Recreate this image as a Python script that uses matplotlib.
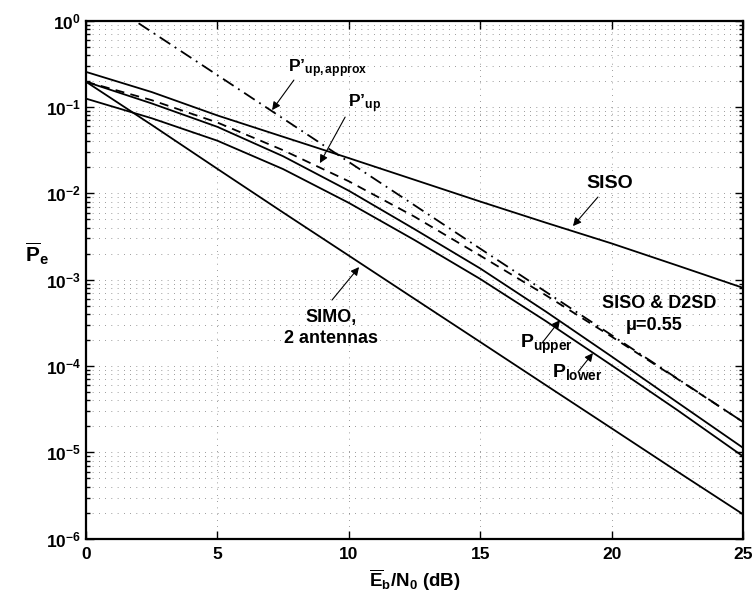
import numpy as np
import matplotlib
matplotlib.use("Agg")
import matplotlib.pyplot as plt
from matplotlib.ticker import FixedLocator, LogLocator, FuncFormatter, NullFormatter

plt.rcParams['font.family'] = ['Liberation Sans', 'DejaVu Sans']
plt.rcParams['font.weight'] = 'bold'
plt.rcParams['mathtext.fontset'] = 'custom'
plt.rcParams['mathtext.rm'] = 'Liberation Sans:bold'
plt.rcParams['mathtext.bf'] = 'Liberation Sans:bold'
plt.rcParams['mathtext.it'] = 'Liberation Sans:bold'
plt.rcParams['mathtext.default'] = 'rm'

# Eb/N0 (dB) sample points
snr_db = [0, 2.5, 5, 7.5, 10, 12.5, 15, 17.5, 20, 22.5, 25]

pe_siso = [0.255, 0.149, 0.0798, 0.0452, 0.0256, 0.01435, 8.04e-3, 4.57e-3, 2.63e-3, 1.46e-3, 8.05e-4]
pe_simo = [0.196, 0.062, 0.0192, 6.0e-3, 1.9e-3, 6.0e-4, 1.9e-4, 6.0e-5, 1.9e-5, 6.0e-6, 1.92e-6]
pe_upper = [0.196, 0.110, 0.0589, 0.0269, 0.01072, 3.85e-3, 1.35e-3, 4.27e-4, 1.29e-4, 3.8e-5, 1.13e-5]
pe_lower = [0.125, 0.0741, 0.0407, 0.0191, 7.76e-3, 2.88e-3, 1.02e-3, 3.31e-4, 1.02e-4, 3.09e-5, 9.0e-6]
pe_up_prime = [0.196, 0.120, 0.0661, 0.0316, 0.0138, 5.37e-3, 1.9e-3, 6.6e-4, 2.19e-4, 7.1e-5, 2.25e-5]

snr_approx = [2, 5, 10, 15, 20, 25]
pe_up_approx = [0.933, 0.234, 0.0231, 2.29e-3, 2.28e-4, 2.25e-5]

x_ticks = [0, 5, 10, 15, 20, 25]

fig = plt.figure(figsize=(7.52, 5.94), dpi=100)
ax = fig.add_axes([0.1144, 0.0931, 0.8736, 0.8721])

lw = 1.3
ax.semilogy(snr_db, pe_siso, color='k', lw=lw)
ax.semilogy(snr_db, pe_simo, color='k', lw=lw)
ax.semilogy(snr_db, pe_upper, color='k', lw=lw)
ax.semilogy(snr_db, pe_lower, color='k', lw=lw)
ax.semilogy(snr_db, pe_up_prime, color='k', lw=lw, dashes=[5, 3.5])
ax.semilogy(snr_approx, pe_up_approx, color='k', lw=lw, dashes=[7, 3, 1, 3])

ax.set_xlim(0, 25)
ax.set_ylim(1e-6, 1)
ax.xaxis.set_major_locator(FixedLocator(x_ticks))
ax.yaxis.set_major_locator(LogLocator(base=10, numticks=10))
ax.yaxis.set_minor_locator(LogLocator(base=10, subs=np.arange(2, 10), numticks=20))
ax.yaxis.set_minor_formatter(NullFormatter())
ax.yaxis.set_major_formatter(FuncFormatter(lambda v, p: r'$\mathbf{10^{%d}}$' % round(np.log10(v))))
ax.xaxis.set_major_formatter(FuncFormatter(lambda v, p: '%d' % v))

ax.grid(True, which='major', color='0.25', linestyle=(0, (1, 8)), lw=0.5)
ax.grid(True, which='minor', axis='y', color='0.25', linestyle=(0, (1, 8)), lw=0.5)
ax.tick_params(which='both', direction='in', top=True, right=True, labelsize=12.5, width=1)
ax.tick_params(which='major', length=6)
ax.tick_params(which='minor', length=3)
ax.tick_params(axis='x', pad=6)
for s in ax.spines.values():
    s.set_linewidth(1.6)

ax.set_xlabel(r'$\overline{\mathrm{E}}_\mathrm{b}/\mathrm{N}_0$ (dB)', fontsize=13.5, fontweight='bold')
ax.xaxis.set_label_coords(0.5, -0.056)
ax.set_ylabel(r'$\overline{\mathrm{P}}_\mathrm{e}$', fontsize=15, rotation=0, va='center', ha='center')
ax.yaxis.set_label_coords(-0.075, 0.55)

arrow = dict(arrowstyle='-|>', color='k', lw=0.8, mutation_scale=12, shrinkA=0, shrinkB=0)

ax.text(7.69, 10 ** -0.594, r'$\mathrm{P’}_{\mathrm{up,approx}}$', fontsize=12.5, ha='left', va='baseline')
ax.annotate('', xy=(7.08, 10 ** -1.036), xytext=(7.91, 10 ** -0.688), arrowprops=arrow)

ax.text(9.97, 10 ** -1.0, r'$\mathrm{P’}_{\mathrm{up}}$', fontsize=12.5, ha='left', va='baseline')
ax.annotate('', xy=(8.90, 10 ** -1.65), xytext=(9.86, 10 ** -1.117), arrowprops=arrow)

ax.text(19.94, 10 ** -1.882, 'SISO', fontsize=14, ha='center', va='center')
ax.annotate('', xy=(18.53, 10 ** -2.379), xytext=(19.48, 10 ** -2.043), arrowprops=arrow)

ax.text(9.32, 10 ** -3.564, 'SIMO,\n2 antennas', fontsize=13, ha='center', va='center', linespacing=1.3)
ax.annotate('', xy=(10.39, 10 ** -2.854), xytext=(9.36, 10 ** -3.236), arrowprops=arrow)

ax.text(21.8, 10 ** -3.271, 'SISO & D2SD', fontsize=13, ha='center', va='center')
ax.text(21.61, 10 ** -3.526, 'μ=0.55', fontsize=13, ha='center', va='center')

ax.text(16.51, 10 ** -3.793, r'$\mathrm{P}_{\mathrm{upper}}$', fontsize=14, ha='left', va='baseline')
ax.annotate('', xy=(18.04, 10 ** -3.468), xytext=(17.35, 10 ** -3.735), arrowprops=arrow)

ax.text(17.73, 10 ** -4.13, r'$\mathrm{P}_{\mathrm{lower}}$', fontsize=14, ha='left', va='baseline')
ax.annotate('', xy=(19.29, 10 ** -3.85), xytext=(18.72, 10 ** -4.07), arrowprops=arrow)

fig.savefig('out.png', dpi=100)
